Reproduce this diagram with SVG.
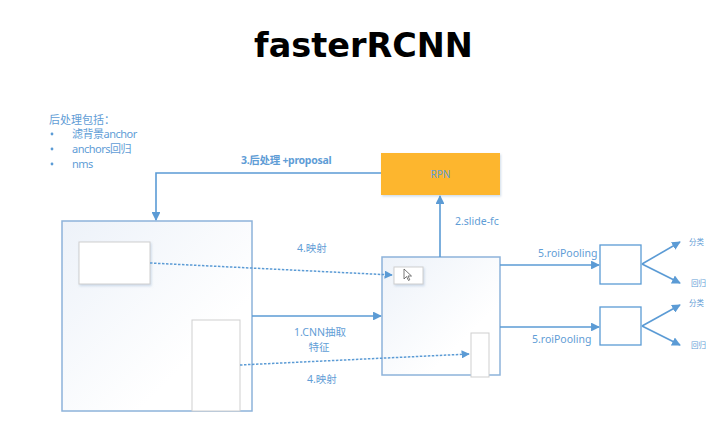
<svg xmlns="http://www.w3.org/2000/svg" width="724" height="433" viewBox="0 0 724 433">
<style>
.t{font-family:"Noto Sans","Noto Sans CJK SC",sans-serif;fill:#5f9dd6;}
.ln{stroke:#5b9bd5;stroke-width:1.6;fill:none;}
.dash{stroke:#5b9bd5;stroke-width:1.5;fill:none;stroke-dasharray:2.5 1.5;}
.frame{stroke:#8db3da;stroke-width:1.5;}
.wbox{fill:#ffffff;stroke:#cfcfcf;stroke-width:1;}
.pbox{fill:#ffffff;stroke:#5b9bd5;stroke-width:1.3;}
</style>
<defs>
<marker id="ah" viewBox="0 0 10 10" refX="9" refY="5" markerWidth="5.5" markerHeight="5.5" orient="auto" markerUnits="strokeWidth">
<path d="M0,0 L10,5 L0,10 z" fill="#5b9bd5"/>
</marker>
<linearGradient id="g1" x1="0" y1="0" x2="1" y2="1">
<stop offset="0" stop-color="#edf2f9"/>
<stop offset="0.7" stop-color="#ffffff"/>
</linearGradient>
<filter id="sh" x="-20%" y="-20%" width="140%" height="140%">
<feDropShadow dx="1" dy="1.5" stdDeviation="1.2" flood-color="#9fb8d4" flood-opacity="0.5"/>
</filter>
</defs>
<rect width="724" height="433" fill="#ffffff"/>
<text x="363.5" y="57" text-anchor="middle" font-family="DejaVu Sans, sans-serif" font-weight="bold" font-size="33.5" fill="#000">fasterRCNN</text>

<g id="notes">
<text class="t" x="49" y="124" font-size="11">后处理包括：</text>
<circle cx="52" cy="134" r="1.4" fill="#5b9bd5"/>
<circle cx="52" cy="149" r="1.4" fill="#5b9bd5"/>
<circle cx="52" cy="164" r="1.4" fill="#5b9bd5"/>
<text class="t" x="72" y="138" font-size="11" letter-spacing="-0.5">滤背景anchor</text>
<text class="t" x="72" y="153" font-size="11" letter-spacing="-0.5">anchors回归</text>
<text class="t" x="72" y="168" font-size="11" letter-spacing="-0.5">nms</text>
</g>

<g id="image">
<rect x="62" y="221" width="190" height="190" fill="url(#g1)" class="frame"/>
<rect x="79" y="242" width="71" height="42" class="wbox" filter="url(#sh)"/>
<rect x="192" y="320" width="48" height="91" class="wbox"/>
</g>

<g id="rpn">
<rect x="381" y="153" width="119" height="42" fill="#fdb62f" filter="url(#sh)"/>
<text class="t" x="440.5" y="178" font-size="10" text-anchor="middle" fill="#5b8fc9">RPN</text>
</g>

<g id="featuremap">
<rect x="382" y="257" width="118" height="118" fill="url(#g1)" class="frame"/>
<rect x="394" y="267" width="29" height="17" class="wbox" filter="url(#sh)"/>
<path d="M404,269 L404,279 L406.5,276.5 L408.5,280.5 L409.8,279.8 L408,276 L411.5,276 Z" fill="#ffffff" stroke="#555" stroke-width="0.8"/>
<rect x="471" y="333" width="18" height="44" class="wbox"/>
</g>

<g id="roi1"><rect x="600" y="245" width="41" height="39" class="pbox"/></g>
<g id="roi2"><rect x="600" y="307" width="41" height="38" class="pbox"/></g>

<g id="connectors">
<polyline class="ln" points="381,173 156,173 156,220" marker-end="url(#ah)"/>
<line class="ln" x1="440" y1="257" x2="440" y2="196" marker-end="url(#ah)"/>
<line class="ln" x1="252" y1="316" x2="381" y2="316" marker-end="url(#ah)"/>
<line class="dash" x1="150" y1="263" x2="392" y2="275" marker-end="url(#ah)"/>
<line class="dash" x1="240" y1="365" x2="469" y2="354" marker-end="url(#ah)"/>
<line class="ln" x1="500" y1="265" x2="599" y2="265" marker-end="url(#ah)"/>
<line class="ln" x1="500" y1="327" x2="599" y2="327" marker-end="url(#ah)"/>
<line class="ln" x1="642" y1="264" x2="680" y2="242" marker-end="url(#ah)"/>
<line class="ln" x1="642" y1="264" x2="680" y2="283" marker-end="url(#ah)"/>
<line class="ln" x1="642" y1="326" x2="680" y2="305" marker-end="url(#ah)"/>
<line class="ln" x1="642" y1="326" x2="680" y2="345" marker-end="url(#ah)"/>
</g>

<g id="labels">
<text class="t" x="241" y="164" font-size="10.5" font-weight="bold" letter-spacing="-0.3">3.后处理 +proposal</text>
<text class="t" x="455" y="225" font-size="10.5">2.slide-fc</text>
<text class="t" x="297" y="252" font-size="10.5">4.映射</text>
<text class="t" x="320" y="336" font-size="10.5" text-anchor="middle">1.CNN抽取</text>
<text class="t" x="319" y="351" font-size="10.5" text-anchor="middle">特征</text>
<text class="t" x="307" y="383" font-size="10.5">4.映射</text>
<text class="t" x="538" y="257" font-size="10.5">5.roiPooling</text>
<text class="t" x="532" y="343" font-size="10.5">5.roiPooling</text>
<text class="t" x="689" y="245" font-size="7.5">分类</text>
<text class="t" x="691" y="286" font-size="7.5">回归</text>
<text class="t" x="689" y="306" font-size="7.5">分类</text>
<text class="t" x="691" y="348" font-size="7.5">回归</text>
</g>
</svg>
